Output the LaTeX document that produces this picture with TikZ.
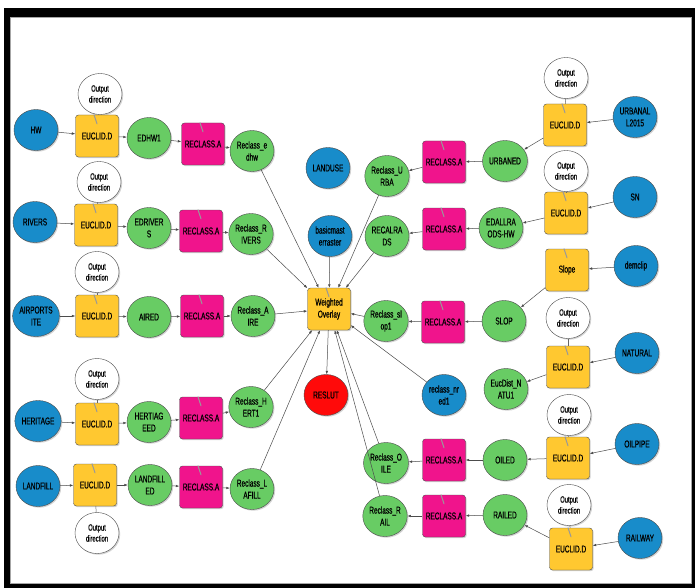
\documentclass[tikz,border=0pt]{standalone}
\usepackage{fontspec}
\newfontfamily\mbfont[FakeStretch=0.65, FakeBold=0.6]{Liberation Sans}
\usetikzlibrary{positioning, shapes.geometric, arrows.meta, shadows}

\definecolor{dataBlue}{RGB}{24,140,202}
\definecolor{derivedGreen}{RGB}{104,204,100}
\definecolor{toolYellow}{RGB}{255,200,48}
\definecolor{reclassPink}{RGB}{240,20,140}
\definecolor{resultRed}{RGB}{255,10,10}

\begin{document}
\begin{tikzpicture}[x=1pt, y=-1pt,
    every node/.style={font=\mbfont\fontsize{10}{12}\selectfont, align=center, text=black},
    data/.style={ellipse, draw=black!70, fill=dataBlue, minimum width=44pt, minimum height=41pt, inner sep=0pt,
        drop shadow={shadow xshift=1.2pt, shadow yshift=-1.2pt, fill=black!35}},
    derived/.style={data, fill=derivedGreen},
    result/.style={data, fill=resultRed},
    outdir/.style={data, fill=white, font=\mbfont\fontsize{9}{11}\selectfont},
    tool/.style={rectangle, rounded corners=3pt, draw=black!70, fill=toolYellow, minimum width=43pt, minimum height=42pt, inner sep=1pt,
        drop shadow={shadow xshift=1.2pt, shadow yshift=-1.2pt, fill=black!35}},
    reclass/.style={tool, fill=reclassPink},
    arrow/.style={-{Latex[length=3.5pt,width=2.6pt]}, draw=black!70, line width=0.5pt},
    link/.style={draw=black!60, line width=0.5pt},
    toolmark/.style={draw=black!40, line width=1pt, line cap=round}
]

% Frame
\fill[white] (0,0) rectangle (695,588);
\fill[black] (4,8) rectangle (695,588);
\fill[white] (10,17) rectangle (691,583);
\draw[black!35, line width=0.6pt] (10,17) rectangle (691,583);

% Left chains
\node[outdir] (od1) at (100,94) {Output\\direction};
\node[data] (hw) at (36,130) {HW};
\node[tool] (eu1) at (97,136) {EUCLID.D};
\node[derived] (edhw) at (149,138) {EDHW1};
\node[reclass] (rc1) at (203,144) {RECLASS.A};
\node[derived] (rcedhw) at (252,151) {Reclass\_e\\dhw};

\node[outdir] (od2) at (99,182) {Output\\direction};
\node[data] (rivers) at (35,222) {RIVERS};
\node[tool] (eu2) at (96,225) {EUCLID.D};
\node[derived] (edrivers) at (149,228) {EDRIVER\\S};
\node[reclass] (rc2) at (201,231) {RECLASS.A};
\node[derived] (rcrivers) at (251,234) {Reclass\_R\\IVERS};

\node[outdir] (od3) at (97,272) {Output\\direction};
\node[data] (airports) at (36,316) {AIRPORTS\\ITE};
\node[tool] (eu3) at (97,316) {EUCLID.D};
\node[derived] (aired) at (149,317) {AIRED};
\node[reclass] (rc3) at (202,316) {RECLASS.A};
\node[derived] (rcaire) at (253,316) {Reclass\_A\\IRE};

\node[outdir] (od4) at (97,379) {Output\\direction};
\node[data] (heritage) at (38,421) {HERITAGE};
\node[tool] (eu4) at (97,424) {EUCLID.D};
\node[derived] (hertiag) at (149,422) {HERTIAG\\EED};
\node[reclass] (rc4) at (201,418) {RECLASS.A};
\node[derived] (rcherti) at (251,407) {Reclass\_H\\ERT1};

\node[data] (landfill) at (38,486) {LANDFILL};
\node[tool] (eu5) at (95,485) {EUCLID.D};
\node[outdir] (od5) at (97,533) {Output\\direction};
\node[derived] (landfilled) at (150,485) {LANDFILL\\ED};
\node[reclass] (rc5) at (201,487) {RECLASS.A};
\node[derived] (rclafill) at (252,489) {Reclass\_L\\AFILL};

% Centre
\node[data] (landuse) at (328,168) {LANDUSE};
\node[data] (basic) at (330,236) {basicmast\\erraster};
\node[tool] (wo) at (329,309) {Weighted\\Overlay};
\node[result] (reslut) at (326,395) {RESLUT};

% Right chains
\node[derived] (rcurba) at (387,176) {Reclass\_U\\RBA};
\node[reclass] (rcU) at (444,162) {RECLASS.A};
\node[derived] (urbaned) at (505,161) {URBANED};
\node[tool] (euU) at (565,125) {EUCLID.D};
\node[outdir] (odU) at (566,78) {Output\\direction};
\node[data] (urbanal) at (635,117) {URBANAL\\L2015};

\node[derived] (recalrads) at (387,236) {RECALRA\\DS};
\node[reclass] (rcE) at (444,229) {RECLASS.A};
\node[derived] (edallra) at (501,228) {EDALLRA\\ODS-HW};
\node[tool] (euE) at (566,213) {EUCLID.D};
\node[outdir] (odE) at (566,171) {Output\\direction};
\node[data] (sn) at (635,197) {SN};

\node[derived] (rcslop) at (386,321) {Reclass\_sl\\op1};
\node[reclass] (rcS) at (443,322) {RECLASS.A};
\node[derived] (slop) at (504,321) {SLOP};
\node[tool] (slope) at (567,270) {Slope};
\node[data] (demclip) at (636,266) {demclip};

\node[outdir] (odN) at (568,318) {Output\\direction};
\node[tool] (euN) at (568,367) {EUCLID.D};
\node[data] (natural) at (637,353) {NATURAL};
\node[derived] (eucdist) at (506,389) {EucDist\_N\\ATU1};
\node[data] (reclassnr) at (444,395) {reclass\_nr\\ed1};

\node[outdir] (odO) at (569,415) {Output\\direction};
\node[derived] (rcoile) at (386,463) {Reclass\_O\\ILE};
\node[reclass] (rcO) at (444,460) {RECLASS.A};
\node[derived] (oiled) at (505,460) {OILED};
\node[tool] (euO) at (568,458) {EUCLID.D};
\node[data] (oilpipe) at (637,444) {OILPIPE};

\node[outdir] (odR) at (569,505) {Output\\direction};
\node[derived] (rcrail) at (385,516) {Reclass\_R\\AIL};
\node[reclass] (rcR) at (444,516) {RECLASS.A};
\node[derived] (railed) at (505,515) {RAILED};
\node[tool] (euR) at (571,549) {EUCLID.D};
\node[data] (railway) at (640,538) {RAILWAY};

% Connectors, left
\draw[link] (od1) -- (eu1);
\draw[arrow] (hw) -- (eu1);
\draw[arrow] (eu1) -- (edhw);
\draw[arrow] (edhw) -- (rc1);
\draw[arrow] (rc1) -- (rcedhw);
\draw[link] (od2) -- (eu2);
\draw[arrow] (rivers) -- (eu2);
\draw[arrow] (eu2) -- (edrivers);
\draw[arrow] (edrivers) -- (rc2);
\draw[arrow] (rc2) -- (rcrivers);
\draw[link] (od3) -- (eu3);
\draw[arrow] (airports) -- (eu3);
\draw[arrow] (eu3) -- (aired);
\draw[arrow] (aired) -- (rc3);
\draw[arrow] (rc3) -- (rcaire);
\draw[link] (od4) -- (eu4);
\draw[arrow] (heritage) -- (eu4);
\draw[arrow] (eu4) -- (hertiag);
\draw[arrow] (hertiag) -- (rc4);
\draw[arrow] (rc4) -- (rcherti);
\draw[link] (eu5) -- (od5);
\draw[arrow] (landfill) -- (eu5);
\draw[arrow] (eu5) -- (landfilled);
\draw[arrow] (landfilled) -- (rc5);
\draw[arrow] (rc5) -- (rclafill);

% Connectors, right
\draw[link] (odU) -- (euU);
\draw[arrow] (urbanal) -- (euU);
\draw[arrow] (euU) -- (urbaned);
\draw[arrow] (urbaned) -- (rcU);
\draw[arrow] (rcU) -- (rcurba);
\draw[link] (odE) -- (euE);
\draw[arrow] (sn) -- (euE);
\draw[arrow] (euE) -- (edallra);
\draw[arrow] (edallra) -- (rcE);
\draw[arrow] (rcE) -- (recalrads);
\draw[arrow] (demclip) -- (slope);
\draw[arrow] (slope) -- (slop);
\draw[arrow] (slop) -- (rcS);
\draw[arrow] (rcS) -- (rcslop);
\draw[link] (odN) -- (euN);
\draw[arrow] (natural) -- (euN);
\draw[arrow] (euN) -- (eucdist);
\draw[link] (odO) -- (euO);
\draw[arrow] (oilpipe) -- (euO);
\draw[arrow] (euO) -- (oiled);
\draw[arrow] (oiled) -- (rcO);
\draw[arrow] (rcO) -- (rcoile);
\draw[link] (odR) -- (euR);
\draw[arrow] (railway) -- (euR);
\draw[arrow] (euR) -- (railed);
\draw[arrow] (railed) -- (rcR);
\draw[arrow] (rcR) -- (rcrail);

% Into the overlay
\draw[arrow] (rcedhw) -- (wo);
\draw[arrow] (rcrivers) -- (wo);
\draw[arrow] (rcaire) -- (wo);
\draw[arrow] (rcherti) -- (wo);
\draw[arrow] (rclafill) -- (wo);
\draw[arrow] (basic) -- (wo);
\draw[arrow] (rcurba) -- (wo);
\draw[arrow] (recalrads) -- (wo);
\draw[arrow] (rcslop) -- (wo);
\draw[arrow] (reclassnr) -- (wo);
\draw[arrow] (rcoile) -- (wo);
\draw[arrow] (rcrail) -- (wo);
\draw[arrow] (wo) -- (reslut);

% Tool marks
\draw[toolmark] ([xshift=-3pt]eu1.north) -- ++(3,9);
\draw[toolmark] ([xshift=-3pt]eu2.north) -- ++(3,9);
\draw[toolmark] ([xshift=-3pt]eu3.north) -- ++(3,9);
\draw[toolmark] ([xshift=-3pt]eu4.north) -- ++(3,9);
\draw[toolmark] ([xshift=-3pt]eu5.north) -- ++(3,9);
\draw[toolmark] ([xshift=-3pt]rc1.north) -- ++(3,9);
\draw[toolmark] ([xshift=-3pt]rc2.north) -- ++(3,9);
\draw[toolmark] ([xshift=-3pt]rc3.north) -- ++(3,9);
\draw[toolmark] ([xshift=-3pt]rc4.north) -- ++(3,9);
\draw[toolmark] ([xshift=-3pt]rc5.north) -- ++(3,9);
\draw[toolmark] ([xshift=-3pt]wo.north) -- ++(3,9);
\draw[toolmark] ([xshift=-3pt]euU.north) -- ++(3,9);
\draw[toolmark] ([xshift=-3pt]euE.north) -- ++(3,9);
\draw[toolmark] ([xshift=-3pt]slope.north) -- ++(3,9);
\draw[toolmark] ([xshift=-3pt]euN.north) -- ++(3,9);
\draw[toolmark] ([xshift=-3pt]euO.north) -- ++(3,9);
\draw[toolmark] ([xshift=-3pt]euR.north) -- ++(3,9);
\draw[toolmark] ([xshift=-3pt]rcU.north) -- ++(3,9);
\draw[toolmark] ([xshift=-3pt]rcE.north) -- ++(3,9);
\draw[toolmark] ([xshift=-3pt]rcS.north) -- ++(3,9);
\draw[toolmark] ([xshift=-3pt]rcO.north) -- ++(3,9);
\draw[toolmark] ([xshift=-3pt]rcR.north) -- ++(3,9);

\end{tikzpicture}
\end{document}
